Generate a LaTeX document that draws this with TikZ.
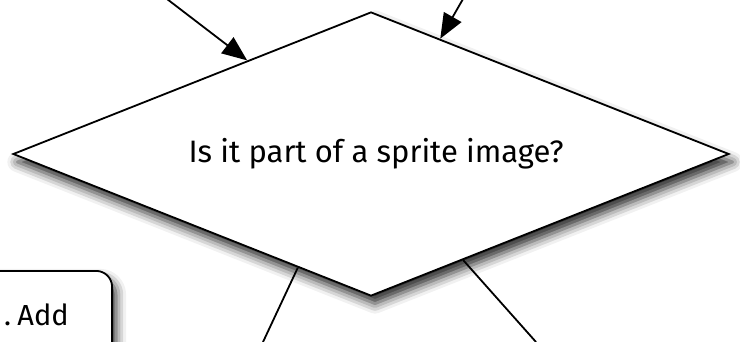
\documentclass[tikz,border=0pt]{standalone}
\usepackage{fontspec}
\setmainfont{Fira Sans}
\usetikzlibrary{shapes.geometric,arrows.meta,shadows.blur,calc}
\begin{document}
\begin{tikzpicture}[x=1pt,y=-1pt,
  edge/.style={line width=1.8pt,black},
  arr/.style={edge,-{Triangle[length=25pt,width=20pt]}},
  shad/.style={blur shadow={shadow xshift=4pt,shadow yshift=-8pt,shadow blur radius=10pt,shadow opacity=85}},
  decision/.style={diamond,draw,line width=1.8pt,fill=white,minimum width=716pt,minimum height=284pt,inner sep=0pt,shad},
  panel/.style={draw,line width=1.8pt,fill=white,rounded corners=16pt,minimum width=320pt,minimum height=160pt,shad},
  lbl/.style={font=\fontsize{29}{34}\selectfont,inner sep=0pt}]
\useasboundingbox (0,0) rectangle (740,341);
\node[panel,anchor=north east] (box) at (113,270) {};
\node[lbl,anchor=base east] (boxtext) at (69,325) {.\hspace{0.22em}Add};
\node[decision] (d) at (371,154) {};
\node[font=\fontsize{31}{36}\selectfont,inner sep=0pt,anchor=base] (q) at (376,162) {Is it part of a sprite image?};
\coordinate (s1) at (167,-1);
\coordinate (s2) at (463,-1);
\coordinate (e1) at (263,342);
\coordinate (e2) at (536,342);
\draw[arr] (s1) -- ($(d.west)!0.655!(d.north)$);
\draw[arr] (s2) -- ($(d.north)!0.193!(d.east)$);
\draw[edge] ($(d.west)!0.796!(d.south)$) -- (e1);
\draw[edge] ($(d.south)!0.257!(d.east)$) -- (e2);
\end{tikzpicture}
\end{document}
